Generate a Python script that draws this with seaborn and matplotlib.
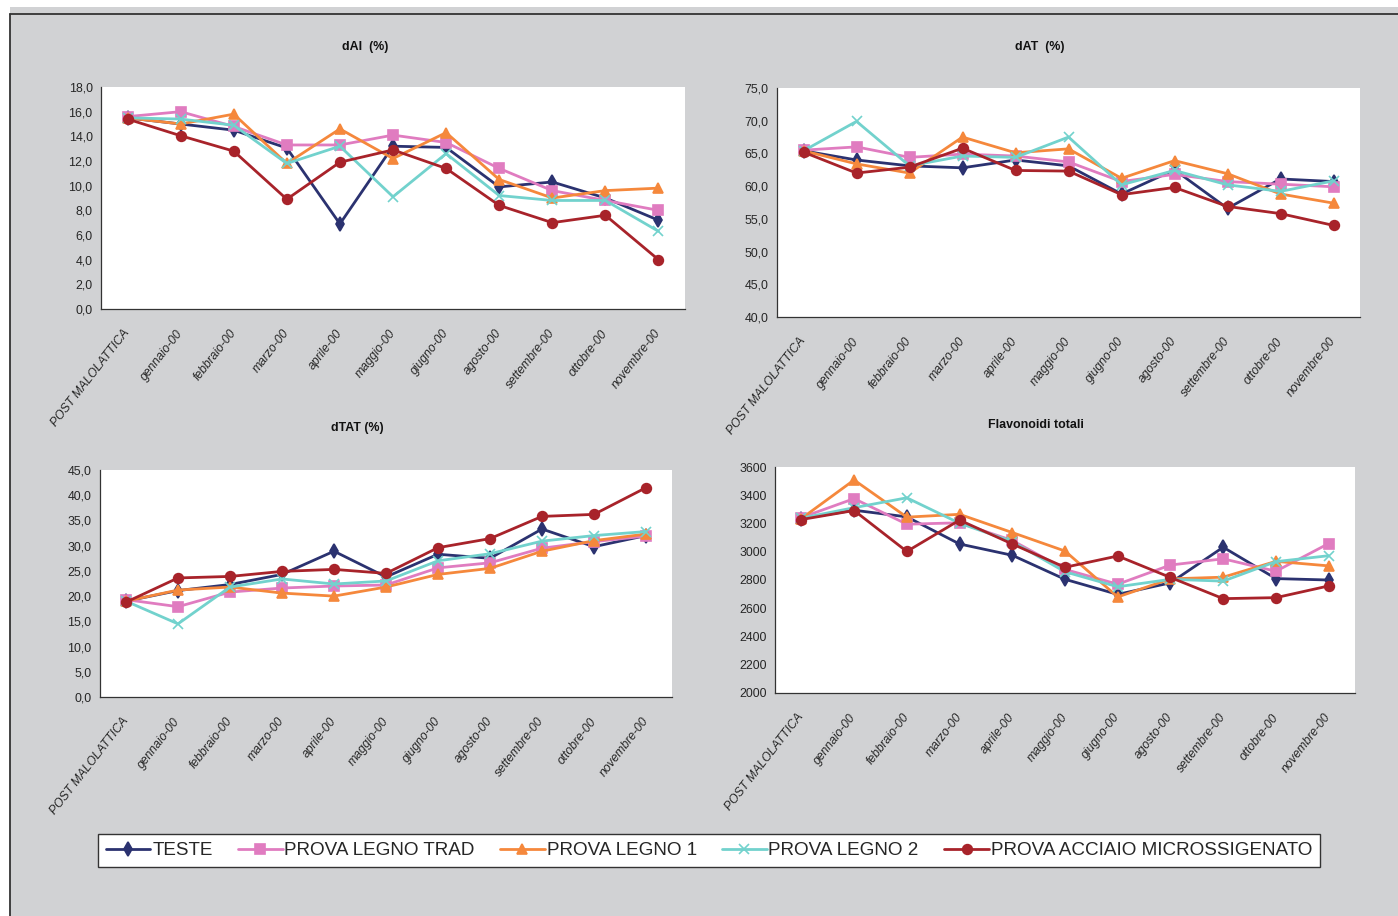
import matplotlib
matplotlib.use("Agg")
import matplotlib.pyplot as plt
from matplotlib.patches import Rectangle
from matplotlib.lines import Line2D
from matplotlib.ticker import FuncFormatter, FixedLocator
import seaborn as sns
import pandas as pd

sns.set_style("white")
plt.rcParams["font.family"] = ["Liberation Sans", "DejaVu Sans"]

categories = ["POST MALOLATTICA", "gennaio-00", "febbraio-00", "marzo-00", "aprile-00",
              "maggio-00", "giugno-00", "agosto-00", "settembre-00", "ottobre-00", "novembre-00"]

series_names = ["TESTE", "PROVA LEGNO TRAD", "PROVA LEGNO 1", "PROVA LEGNO 2",
                "PROVA ACCIAIO MICROSSIGENATO"]
series_colors = ["#2b3270", "#e07cc0", "#f5883c", "#72d2cd", "#a8232a"]
series_markers = ["d", "s", "^", "x", "o"]

# dAI (%)
dai_teste = [15.5, 15.0, 14.5, 13.05, 6.9, 13.2, 13.1, 9.9, 10.3, 9.0, 7.2]
dai_trad = [15.6, 16.0, 14.8, 13.3, 13.3, 14.1, 13.5, 11.4, 9.6, 8.8, 8.0]
dai_legno1 = [15.5, 15.0, 15.8, 11.8, 14.6, 12.2, 14.3, 10.5, 9.0, 9.6, 9.8]
dai_legno2 = [15.5, 15.4, 14.9, 11.8, 13.2, 9.1, 12.6, 9.2, 8.8, 8.8, 6.3]
dai_acciaio = [15.4, 14.05, 12.8, 8.9, 11.9, 12.9, 11.4, 8.4, 7.0, 7.6, 4.0]

# dAT (%)
dat_teste = [65.4, 64.0, 63.1, 62.8, 64.0, 63.1, 58.8, 62.5, 56.6, 61.1, 60.7]
dat_trad = [65.5, 66.0, 64.4, 64.9, 64.6, 63.7, 60.7, 61.8, 60.7, 60.3, 59.9]
dat_legno1 = [65.4, 63.4, 62.0, 67.5, 65.1, 65.7, 61.2, 63.9, 61.9, 58.8, 57.4]
dat_legno2 = [65.4, 69.9, 63.1, 64.6, 64.4, 67.5, 60.2, 62.4, 60.2, 59.2, 60.8]
dat_acciaio = [65.2, 62.0, 62.9, 65.8, 62.4, 62.3, 58.7, 59.8, 56.9, 55.8, 54.0]

# dTAT (%)
dtat_teste = [19.0, 21.1, 22.3, 24.3, 28.9, 23.8, 28.3, 27.5, 33.3, 29.8, 32.0]
dtat_trad = [19.3, 17.9, 20.8, 21.6, 22.0, 22.2, 25.6, 26.6, 29.5, 30.8, 31.9]
dtat_legno1 = [19.0, 21.2, 21.8, 20.6, 20.0, 21.8, 24.3, 25.5, 28.9, 31.0, 32.3]
dtat_legno2 = [19.0, 14.5, 21.8, 23.4, 22.4, 23.0, 27.0, 28.4, 30.9, 32.0, 32.8]
dtat_acciaio = [18.8, 23.6, 23.9, 24.9, 25.3, 24.5, 29.6, 31.4, 35.8, 36.2, 41.5]

# Flavonoidi totali
flav_teste = [3235, 3294, 3247, 3055, 2975, 2805, 2698, 2780, 3032, 2810, 2800]
flav_trad = [3242, 3376, 3195, 3205, 3080, 2875, 2770, 2906, 2950, 2862, 3058]
flav_legno1 = [3235, 3508, 3245, 3265, 3136, 3005, 2680, 2808, 2820, 2932, 2900]
flav_legno2 = [3238, 3312, 3382, 3202, 3072, 2858, 2752, 2805, 2792, 2930, 2972]
flav_acciaio = [3228, 3292, 3002, 3224, 3055, 2890, 2970, 2818, 2668, 2675, 2758]

panels = [
    ("dAI  (%)", [dai_teste, dai_trad, dai_legno1, dai_legno2, dai_acciaio], 0, 18, 2, True),
    ("dAT  (%)", [dat_teste, dat_trad, dat_legno1, dat_legno2, dat_acciaio], 40, 75, 5, True),
    ("dTAT (%)", [dtat_teste, dtat_trad, dtat_legno1, dtat_legno2, dtat_acciaio], 0, 45, 5, True),
    ("Flavonoidi totali", [flav_teste, flav_trad, flav_legno1, flav_legno2, flav_acciaio], 2000, 3600, 200, False),
]

W, H = 1398, 916
fig = plt.figure(figsize=(W / 100, H / 100), dpi=100, facecolor="white")

# grey chart background with dark frame on top and left
fig.patches.append(Rectangle((10 / W, 0), 1 - 10 / W, 1 - 7 / H, transform=fig.transFigure,
                             facecolor="#d1d2d4", edgecolor="none", zorder=-10))
fig.add_artist(Line2D([10 / W, 1], [1 - 14 / H, 1 - 14 / H], transform=fig.transFigure,
                      color="#333333", lw=1.3, zorder=-5))
fig.add_artist(Line2D([10 / W, 10 / W], [0, 1 - 14 / H], transform=fig.transFigure,
                      color="#333333", lw=1.3, zorder=-5))

# plot-area boxes in pixels: left, top, right, bottom
boxes = [(101, 87, 685, 309), (777, 88, 1360, 317), (100, 470, 672, 697), (775, 467, 1355, 693)]
title_pos = [(365, 47), (1040, 47), (357, 428), (1036, 425)]

for (title, data, ymin, ymax, step, decimal), (l, t, r, b), (tx, ty) in zip(panels, boxes, title_pos):
    ax = fig.add_axes([l / W, 1 - b / H, (r - l) / W, (b - t) / H])
    ax.set_zorder(2)
    ax.set_facecolor("white")
    for name, vals, col, mk in zip(series_names, data, series_colors, series_markers):
        df = pd.DataFrame({"cat": categories, "val": vals})
        sns.lineplot(data=df, x="cat", y="val", sort=False, ax=ax, color=col, lw=2.0,
                     marker=mk, markersize=7.5 if mk == "d" else 7,
                     markeredgecolor=col, markeredgewidth=1.2, label=name, legend=False)
    ax.set_xlim(-0.5, len(categories) - 0.5)
    ax.set_ylim(ymin, ymax)
    ax.set_yticks(list(range(ymin, ymax + 1, step)))
    if decimal:
        ax.yaxis.set_major_formatter(FuncFormatter(lambda v, p: f"{v:.1f}".replace(".", ",")))
    else:
        ax.yaxis.set_major_formatter(FuncFormatter(lambda v, p: f"{int(v)}"))
    ax.set_xticks(range(len(categories)))
    ax.set_xticklabels(categories, rotation=52, ha="right", va="center", rotation_mode="anchor",
                       fontstyle="italic", fontsize=8.7)
    ax.xaxis.set_minor_locator(FixedLocator([i - 0.5 for i in range(len(categories) + 1)]))
    ax.tick_params(axis="x", which="major", length=0, pad=16)
    ax.tick_params(axis="x", which="minor", length=5, width=0.9, color="#333333", direction="out")
    ax.tick_params(axis="y", which="major", length=4, width=0.9, color="#333333",
                   direction="out", labelsize=8.9, pad=2)
    ax.set_xlabel("")
    ax.set_ylabel("")
    for s in ["top", "right"]:
        ax.spines[s].set_visible(False)
    for s in ["left", "bottom"]:
        ax.spines[s].set_color("#333333")
        ax.spines[s].set_linewidth(0.9)
    ax.grid(False)
    fig.text(tx / W, 1 - ty / H, title, ha="center", va="center", fontsize=8.9,
             fontweight="bold", color="#111111")

handles = [Line2D([], [], color=c, lw=2.0, marker=m, markersize=7.5 if m == "d" else 7,
                  markeredgecolor=c, markeredgewidth=1.2)
           for c, m in zip(series_colors, series_markers)]
leg = fig.legend(handles, series_names, loc="center", ncol=5,
                 bbox_to_anchor=(709 / W, 1 - 850.5 / H),
                 prop={"family": "Liberation Sans", "size": 13.6}, frameon=True,
                 fancybox=False, edgecolor="#333333", facecolor="white", framealpha=1,
                 handlelength=2.35, handletextpad=0.1, borderaxespad=0, borderpad=0.42,
                 columnspacing=1.35)
leg.get_frame().set_linewidth(1.0)
leg.set_zorder(3)

fig.savefig("out.png", dpi=100, facecolor=fig.get_facecolor())
